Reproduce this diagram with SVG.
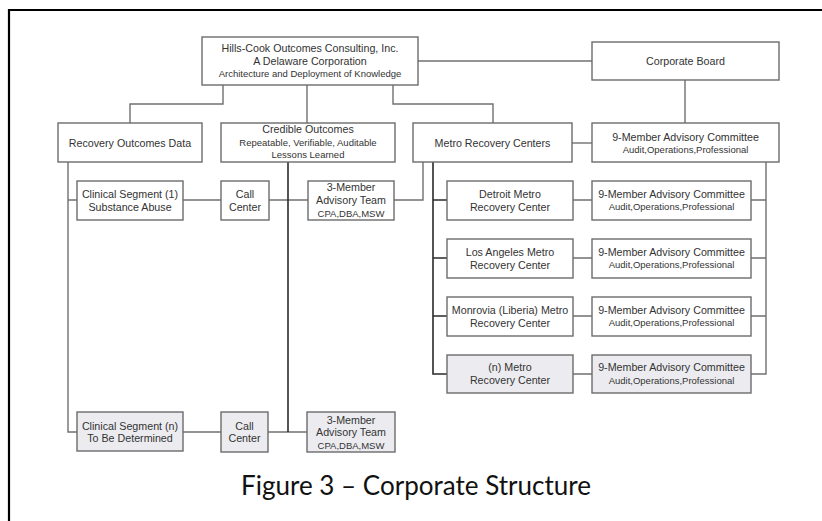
<svg xmlns="http://www.w3.org/2000/svg" width="822" height="521" viewBox="0 0 822 521">
<style>
.box{fill:#ffffff;stroke:#6c6c6c;stroke-width:1.4}
.gray{fill:#ececf0}
.t{font-family:"Liberation Sans",Arial,sans-serif;fill:#333333;text-anchor:middle;font-size:10.7px}
.s{font-size:9.5px}
.c{fill:none;stroke:#707070;stroke-width:1.4}
.d{stroke:#2a2a2a;stroke-width:1.6}
.cap{font-family:Lato,"Open Sans",sans-serif;font-size:26px;fill:#111111;text-anchor:middle}
</style>
<rect width="822" height="521" fill="#ffffff"/>
<path d="M9 521 V10 H822" fill="none" stroke="#000" stroke-width="2.2"/>
<g id="connectors">
<path class="c" d="M418 61 H592"/>
<path class="c" d="M223 85 V104 H130 V123"/>
<path class="c" d="M307 85 V123"/>
<path class="c" d="M393 85 V104 H493 V123"/>
<path class="c" d="M685 80 V123"/>
<path class="c" d="M572 143 H592"/>
<path class="c" d="M68 162 V432 H77 M68 200 H77"/>
<path class="c" d="M183 200 H221 M269 200 H308"/>
<path class="c" d="M183 432 H221 M268 432 H307"/>
<path class="c d" d="M288 162 V432"/>
<path class="c" d="M394 200 H423 V162"/>
<path class="c d" d="M433 162 V374 H447 M433 200 H447 M433 258 H447 M433 316 H447"/>
<path class="c" d="M573 200 H592 M573 258 H592 M573 316 H592 M573 374 H592"/>
<path class="c" d="M766 162 V374 H751 M766 200 H751 M766 258 H751 M766 316 H751"/>
</g>
<g id="hq"><rect class="box" x="202" y="37" width="216" height="48"/>
<text class="t" x="310" y="52">Hills-Cook Outcomes Consulting, Inc.</text>
<text class="t" x="310" y="65">A Delaware Corporation</text>
<text class="t s" x="310" y="77">Architecture and Deployment of Knowledge</text></g>
<g id="board"><rect class="box" x="592" y="42" width="187" height="38"/>
<text class="t" x="685.5" y="65">Corporate Board</text></g>
<g id="rod"><rect class="box" x="58" y="123" width="144" height="39"/>
<text class="t" x="130" y="146.5">Recovery Outcomes Data</text></g>
<g id="credible"><rect class="box" x="221" y="123" width="174" height="39"/>
<text class="t" x="308" y="133">Credible Outcomes</text>
<text class="t s" x="308" y="145.5">Repeatable, Verifiable, Auditable</text>
<text class="t s" x="308" y="157.5">Lessons Learned</text></g>
<g id="mrc"><rect class="box" x="413" y="123" width="159" height="39"/>
<text class="t" x="492.5" y="146.5">Metro Recovery Centers</text></g>
<g id="adv0"><rect class="box" x="592" y="123" width="187" height="39"/>
<text class="t" x="685.5" y="140.5">9-Member Advisory Committee</text>
<text class="t s" x="685.5" y="152.5">Audit,Operations,Professional</text></g>
<g id="cs1"><rect class="box" x="77" y="181" width="106" height="39"/>
<text class="t" x="130" y="198">Clinical Segment (1)</text>
<text class="t" x="130" y="210.5">Substance Abuse</text></g>
<g id="call1"><rect class="box" x="221" y="181" width="48" height="39"/>
<text class="t" x="245" y="198">Call</text>
<text class="t" x="245" y="210.5">Center</text></g>
<g id="team1"><rect class="box" x="308" y="181" width="86" height="39"/>
<text class="t" x="351" y="191">3-Member</text>
<text class="t" x="351" y="204">Advisory Team</text>
<text class="t s" x="351" y="216.5">CPA,DBA,MSW</text></g>
<g id="detroit"><rect class="box" x="447" y="181" width="126" height="39"/>
<text class="t" x="510" y="198">Detroit Metro</text>
<text class="t" x="510" y="210.5">Recovery Center</text></g>
<g id="adv1"><rect class="box" x="592" y="181" width="159" height="39"/>
<text class="t" x="671.5" y="198">9-Member Advisory Committee</text>
<text class="t s" x="671.5" y="210">Audit,Operations,Professional</text></g>
<g id="la"><rect class="box" x="447" y="239" width="126" height="39"/>
<text class="t" x="510" y="256">Los Angeles Metro</text>
<text class="t" x="510" y="268.5">Recovery Center</text></g>
<g id="adv2"><rect class="box" x="592" y="239" width="159" height="39"/>
<text class="t" x="671.5" y="256">9-Member Advisory Committee</text>
<text class="t s" x="671.5" y="268">Audit,Operations,Professional</text></g>
<g id="monrovia"><rect class="box" x="447" y="297" width="126" height="39"/>
<text class="t" x="510" y="314">Monrovia (Liberia) Metro</text>
<text class="t" x="510" y="326.5">Recovery Center</text></g>
<g id="adv3"><rect class="box" x="592" y="297" width="159" height="39"/>
<text class="t" x="671.5" y="314">9-Member Advisory Committee</text>
<text class="t s" x="671.5" y="326">Audit,Operations,Professional</text></g>
<g id="nmetro"><rect class="box gray" x="447" y="355" width="126" height="38"/>
<text class="t" x="510" y="371">(n) Metro</text>
<text class="t" x="510" y="384">Recovery Center</text></g>
<g id="adv4"><rect class="box gray" x="592" y="355" width="159" height="38"/>
<text class="t" x="671.5" y="371">9-Member Advisory Committee</text>
<text class="t s" x="671.5" y="383.5">Audit,Operations,Professional</text></g>
<g id="csn"><rect class="box gray" x="77" y="412" width="106" height="39"/>
<text class="t" x="130" y="429.5">Clinical Segment (n)</text>
<text class="t" x="130" y="441.5">To Be Determined</text></g>
<g id="calln"><rect class="box gray" x="221" y="412" width="47" height="40"/>
<text class="t" x="244.5" y="429.5">Call</text>
<text class="t" x="244.5" y="442">Center</text></g>
<g id="teamn"><rect class="box gray" x="307" y="412" width="88" height="40"/>
<text class="t" x="351" y="423.5">3-Member</text>
<text class="t" x="351" y="435.5">Advisory Team</text>
<text class="t s" x="351" y="449">CPA,DBA,MSW</text></g>
<text class="cap" x="416" y="495" textLength="350" lengthAdjust="spacingAndGlyphs">Figure 3 – Corporate Structure</text>
</svg>
